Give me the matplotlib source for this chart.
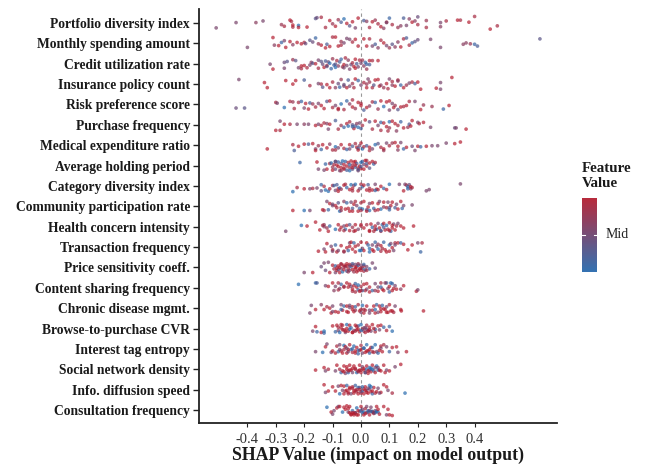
import matplotlib
matplotlib.use("Agg")
import matplotlib.pyplot as plt
import numpy as np
from matplotlib.colors import LinearSegmentedColormap

plt.rcParams['font.family'] = ['Liberation Serif', 'DejaVu Serif']

features = ["Portfolio diversity index", "Monthly spending amount", "Credit utilization rate",
            "Insurance policy count", "Risk preference score", "Purchase frequency",
            "Medical expenditure ratio", "Average holding period", "Category diversity index",
            "Community participation rate", "Health concern intensity", "Transaction frequency",
            "Price sensitivity coeff.", "Content sharing frequency", "Chronic disease mgmt.",
            "Browse-to-purchase CVR", "Interest tag entropy", "Social network density",
            "Info. diffusion speed", "Consultation frequency"]
x_ticks = [-0.4, -0.3, -0.2, -0.1, 0.0, 0.1, 0.2, 0.3, 0.4]

shap_00 = [-0.51,-0.44,-0.37,-0.345,-0.28,-0.27,-0.25,-0.245,-0.24,-0.22,
           -0.22,-0.16,-0.155,-0.14,-0.125,-0.11,-0.09,-0.08,-0.07,-0.06,
           -0.05,-0.04,-0.03,-0.02,-0.01,0.01,0.03,0.04,0.05,0.06,
           0.07,0.08,0.09,0.09,0.1,0.11,0.13,0.14,0.15,0.16,
           0.17,0.18,0.19,0.2,0.2,0.23,0.23,0.28,0.28,0.3,
           0.34,0.35,0.38,0.40,0.455,0.48,-0.19,-0.1,-0.24,0.02]
jit_00 = [24,-2,-2,-10,8,16,-14,-8,20,12,
          22,-22,-26,-28,22,-12,16,-16,-4,-20,
          2,14,-6,24,-24,-12,22,-6,-14,4,
          18,26,-4,-2,-24,8,22,14,-24,12,
          -20,-4,-10,8,-30,22,-12,-2,18,-10,
          -14,-14,-4,-32,30,14,20,4,10,-8]
feat_00 = [5,5,6,5,7,8,9,8,8,0,
           9,3,4,8,8,9,9,7,2,0,
           9,3,9,5,9,2,8,9,7,8,
           9,6,8,5,1,8,7,6,2,5,
           6,9,6,8,4,8,7,5,6,8,
           9,8,9,8,9,8,9,7,9,6]

shap_01 = [-0.40,-0.31,-0.305,-0.29,-0.28,-0.27,-0.265,-0.25,-0.24,-0.225,
           -0.21,-0.2,-0.195,-0.18,-0.17,-0.16,-0.15,-0.14,-0.125,-0.12,
           -0.11,-0.1,-0.09,-0.08,-0.07,-0.07,-0.06,-0.05,-0.04,-0.03,
           -0.02,-0.01,0.01,0.02,0.03,0.04,0.05,0.06,0.07,0.08,
           0.09,0.1,0.11,0.12,0.13,0.14,0.15,0.16,0.17,0.18,
           0.19,0.2,0.245,0.28,0.36,0.37,0.385,0.40,0.41,0.63]
jit_01 = [18,-26,8,10,-4,-12,18,-8,6,-4,
          2,-4,1,-14,-6,-24,2,8,20,4,
          14,-28,-28,12,-8,8,-2,-22,-18,-6,
          -18,12,-20,12,-20,12,4,20,-14,-2,
          10,20,4,16,-6,16,-20,-24,8,-2,
          -8,-16,-18,18,4,-2,2,4,12,-20]
feat_01 = [5,9,6,9,1,5,9,9,6,9,
           9,8,4,3,4,1,7,9,9,2,
           9,8,9,9,7,8,5,5,5,8,
           9,9,9,9,8,5,2,6,8,9,
           5,7,3,6,6,9,8,2,8,1,
           3,4,5,5,6,6,7,1,2,3]

shap_02 = [-0.32,-0.31,-0.27,-0.27,-0.26,-0.24,-0.23,-0.22,-0.21,-0.21,
           -0.2,-0.19,-0.18,-0.175,-0.17,-0.16,-0.15,-0.15,-0.14,-0.135,
           -0.13,-0.125,-0.12,-0.115,-0.11,-0.105,-0.1,-0.095,-0.09,-0.085,
           -0.08,-0.075,-0.07,-0.065,-0.06,-0.055,-0.05,-0.045,-0.04,-0.035,
           -0.03,-0.025,-0.02,-0.015,-0.01,-0.005,0.0,0.005,0.01,0.015,
           0.02,0.02,0.03,0.03,0.04,0.06,-0.12,-0.09,-0.06,-0.02]
jit_02 = [2,24,-6,20,-10,-18,-14,18,10,22,
          8,18,6,-6,-2,0,-16,20,-10,2,
          16,-12,8,-8,-2,22,-22,6,2,-14,
          10,-8,-20,14,4,-26,8,-16,24,4,
          -4,12,-20,0,14,-16,-2,-16,10,-6,
          2,24,-14,4,-14,-14,12,16,18,20]
feat_02 = [5,9,4,5,3,7,3,5,9,8,
           9,8,5,6,3,9,5,8,3,4,
           9,2,8,4,0,1,7,1,3,8,
           6,2,1,7,9,8,5,6,5,4,
           8,9,9,2,5,8,5,7,6,1,
           1,7,9,2,8,9,3,0,5,9]

shap_03 = [-0.43,-0.34,-0.33,-0.265,-0.24,-0.23,-0.2,-0.18,-0.15,-0.14,
           -0.135,-0.12,-0.11,-0.1,-0.09,-0.08,-0.075,-0.07,-0.06,-0.05,
           -0.045,-0.04,-0.03,-0.025,-0.02,-0.01,0.0,0.01,0.02,0.025,
           0.03,0.04,0.045,0.05,0.06,0.065,0.07,0.08,0.09,0.095,
           0.1,0.11,0.12,0.13,0.13,0.14,0.15,0.16,0.17,0.18,
           0.19,0.2,0.21,0.265,0.28,0.28,0.32,-0.06,0.02,0.11]
jit_03 = [-18,-6,14,-14,0,-14,-16,6,-2,0,
          12,2,14,-8,14,-2,12,-18,8,14,
          -16,8,-2,14,-20,-14,4,-6,14,-20,
          -8,14,4,-16,-18,8,4,14,-2,18,
          -20,4,8,-16,-12,4,14,4,-4,-8,
          -2,-8,20,16,-6,20,-26,2,0,-10]
feat_03 = [5,9,9,9,9,9,2,8,5,8,
           3,9,9,8,6,4,1,7,5,9,
           2,5,7,8,9,1,5,8,9,5,
           7,8,3,9,9,9,6,7,9,8,
           5,6,9,8,6,1,9,7,5,8,
           2,9,9,9,5,5,9,4,7,8]

shap_04 = [-0.44,-0.41,-0.30,-0.295,-0.27,-0.25,-0.24,-0.235,-0.22,-0.21,
           -0.2,-0.195,-0.185,-0.18,-0.17,-0.16,-0.15,-0.14,-0.13,-0.12,
           -0.11,-0.1,-0.09,-0.08,-0.07,-0.06,-0.05,-0.04,-0.03,-0.02,
           -0.01,0.0,0.01,0.02,0.03,0.04,0.05,0.06,0.07,0.08,
           0.09,0.1,0.11,0.115,0.12,0.13,0.14,0.15,0.16,0.17,
           0.19,0.21,0.22,0.25,0.29,0.31,-0.08,-0.03,0.0,0.1]
jit_04 = [14,14,-8,-5,12,-12,-10,16,-8,-12,
          14,-4,18,-6,-2,10,-4,4,16,-12,
          -14,12,4,20,-2,20,-14,-2,10,16,
          -8,-4,22,12,6,-10,-8,18,-14,8,
          -10,22,-4,12,4,20,10,8,4,-12,
          -12,20,2,8,18,4,16,-18,4,-14]
feat_04 = [4,3,8,5,0,8,7,8,8,1,
           5,9,9,2,7,8,5,9,9,3,
           9,8,5,8,0,8,1,6,9,7,
           9,8,2,9,6,8,1,7,9,0,
           9,5,5,9,7,3,9,8,9,8,
           5,9,7,7,1,9,9,8,9,9]

shap_05 = [-0.30,-0.285,-0.285,-0.27,-0.25,-0.225,-0.2,-0.185,-0.16,-0.15,
           -0.14,-0.13,-0.12,-0.115,-0.11,-0.09,-0.08,-0.07,-0.06,-0.05,
           -0.045,-0.04,-0.03,-0.025,-0.02,-0.015,-0.01,-0.005,0.0,0.005,
           0.015,0.04,0.05,0.06,0.07,0.07,0.08,0.09,0.095,0.1,
           0.11,0.12,0.125,0.13,0.14,0.15,0.165,0.17,0.175,0.18,
           0.2,0.205,0.22,0.245,0.33,0.335,0.37,-0.03,0.03,0.1]
jit_05 = [18,18,-12,-2,-2,-2,-2,-2,2,-2,
          2,-6,-4,14,-2,-14,14,2,8,-4,
          4,-10,0,12,4,-4,8,-6,12,2,
          -16,14,-12,2,-8,18,-6,6,20,-10,
          -12,-4,20,2,-10,10,8,-2,4,-14,
          -8,-4,-8,8,10,10,14,6,-10,10]
feat_05 = [9,8,5,9,8,5,6,5,9,5,
           9,8,6,5,9,2,8,7,1,9,
           0,8,3,9,2,6,0,5,2,8,
           9,8,9,5,1,8,9,9,8,0,
           9,9,6,8,1,9,7,2,9,9,
           5,8,9,5,4,5,9,1,3,7]

shap_06 = [-0.33,-0.24,-0.235,-0.22,-0.2,-0.185,-0.17,-0.16,-0.15,-0.14,
           -0.135,-0.12,-0.11,-0.1,-0.09,-0.08,-0.07,-0.06,-0.05,-0.04,
           -0.03,-0.02,-0.015,-0.01,-0.005,0.0,0.005,0.01,0.02,0.03,
           0.04,0.05,0.06,0.07,0.08,0.09,0.1,0.11,0.12,0.13,
           0.14,0.15,0.16,0.18,0.19,0.2,0.21,0.23,0.25,0.27,
           0.30,0.33,0.35,-0.16,-0.09,-0.04,-0.01,0.03,0.08,0.13]
jit_06 = [14,-2,20,4,-4,-4,-6,14,2,16,
          -2,10,-4,18,6,10,-2,12,16,-2,
          4,-6,8,12,2,-8,14,6,2,8,
          14,-2,-6,8,14,-8,2,-8,-10,4,
          -10,14,8,4,20,4,6,4,2,2,
          -8,-6,-12,20,18,14,18,20,20,18]
feat_06 = [9,8,2,9,9,2,9,5,7,1,
           9,9,6,8,0,5,9,8,1,9,
           2,8,9,1,5,9,0,8,2,9,
           5,0,3,8,9,5,8,7,9,9,
           5,1,9,4,5,9,1,9,5,5,
           5,9,9,9,8,5,9,8,7,6]

shap_07 = [-0.215,-0.155,-0.15,-0.125,-0.12,-0.11,-0.105,-0.1,-0.095,-0.09,
           -0.09,-0.085,-0.08,-0.08,-0.075,-0.07,-0.07,-0.065,-0.06,-0.06,
           -0.055,-0.05,-0.05,-0.045,-0.04,-0.04,-0.035,-0.03,-0.03,-0.025,
           -0.02,-0.02,-0.015,-0.01,-0.01,-0.005,0.0,0.0,0.005,0.01,
           0.01,0.015,0.02,0.02,0.03,0.03,0.04,0.045,0.05,-0.13,
           -0.1,-0.07,-0.04,-0.02,0.0,0.02,-0.09,-0.06,-0.03,-0.01]
jit_07 = [-12,-14,14,-6,14,-8,-10,6,-4,14,
          -16,-2,4,-14,20,-8,8,-18,-4,14,
          -16,2,18,-12,8,20,-18,-2,14,-14,
          6,-16,-8,10,20,2,-12,12,-16,-4,
          14,-20,2,-8,-10,10,-16,-6,-12,18,
          18,20,-4,-2,4,-20,-16,10,8,16]
feat_07 = [1,9,5,1,9,8,0,7,8,4,
           0,9,9,1,5,3,9,0,9,8,
           1,9,2,9,7,0,9,8,3,9,
           1,9,2,8,5,9,0,9,1,5,
           9,9,8,2,9,3,9,1,8,5,
           9,7,1,9,2,8,5,8,9,3]

shap_08 = [-0.24,-0.225,-0.2,-0.18,-0.17,-0.155,-0.14,-0.13,-0.125,-0.115,
           -0.11,-0.1,-0.095,-0.09,-0.085,-0.08,-0.075,-0.07,-0.06,-0.055,
           -0.05,-0.04,-0.035,-0.03,-0.025,-0.02,-0.01,-0.005,0.0,0.005,
           0.01,0.02,0.025,0.03,0.04,0.05,0.055,0.06,0.07,0.08,
           0.1,0.135,0.15,0.155,0.16,0.165,0.165,0.17,0.175,0.175,
           0.18,0.23,0.24,0.35,-0.14,-0.08,-0.03,0.03,0.05,0.09]
jit_08 = [28,8,14,14,12,10,-6,2,20,26,
          14,-2,-2,22,-6,14,10,16,-4,-8,
          8,18,-6,12,-2,-8,24,14,-8,4,
          -4,20,-6,12,20,-8,16,18,2,12,
          -8,-8,24,-8,-4,4,14,-6,14,4,
          8,24,18,-10,24,26,24,24,22,18]
feat_08 = [0,8,9,5,8,5,1,8,0,0,
           9,8,1,5,2,9,0,7,9,8,
           1,9,0,9,6,0,9,5,8,1,
           9,9,2,8,9,5,9,8,9,1,
           0,5,9,5,7,0,1,4,5,9,
           8,5,5,5,3,9,8,9,1,9]

shap_09 = [-0.24,-0.2,-0.18,-0.135,-0.13,-0.12,-0.115,-0.11,-0.1,-0.09,
           -0.085,-0.08,-0.075,-0.07,-0.06,-0.055,-0.05,-0.045,-0.04,-0.035,
           -0.03,-0.025,-0.02,-0.015,-0.01,-0.005,0.0,0.005,0.01,0.02,
           0.025,0.03,0.04,0.045,0.05,0.06,0.065,0.07,0.08,0.09,
           0.095,0.1,0.105,0.11,0.12,0.125,0.13,0.14,0.145,0.15,
           0.18,-0.07,-0.03,0.0,0.03,0.06,0.1,-0.1,0.02,0.08]
jit_09 = [12,12,12,10,12,-14,10,-8,-6,-2,
          4,-10,14,4,-14,8,-10,6,14,-12,
          6,-6,-14,-2,14,6,-10,8,-14,10,
          2,-8,-10,6,12,-8,-14,8,-12,4,
          -12,10,-2,-12,4,-6,8,-14,6,-2,
          -4,12,14,12,12,10,4,-2,14,2]
feat_09 = [9,0,5,9,8,5,1,9,5,9,
           8,3,0,9,6,9,1,9,9,5,
           2,9,8,5,9,1,8,0,9,2,
           9,5,9,1,8,9,5,0,9,8,
           5,1,9,9,2,5,9,9,1,5,
           5,7,9,8,0,9,3,5,9,6]

shap_10 = [-0.265,-0.21,-0.19,-0.16,-0.145,-0.135,-0.13,-0.12,-0.115,-0.11,
           -0.09,-0.08,-0.075,-0.07,-0.06,-0.055,-0.05,-0.04,-0.03,-0.025,
           -0.02,-0.01,0.0,0.01,0.02,0.03,0.035,0.04,0.045,0.05,
           0.055,0.06,0.065,0.07,0.075,0.08,0.085,0.09,0.095,0.1,
           0.105,0.11,0.115,0.12,0.125,0.13,0.14,0.15,0.185,-0.06,
           -0.02,0.03,0.07,0.1,-0.04,0.0,0.05,0.08,-0.13,0.11]
jit_10 = [14,-4,-2,-14,10,-4,0,4,14,-2,
          8,-6,10,2,-2,8,-4,12,2,14,
          -6,8,-6,4,-6,12,-8,2,14,-2,
          8,-10,4,14,-6,-10,10,-4,8,-12,
          14,4,-8,10,-2,-10,-2,4,-2,12,
          12,14,12,12,-6,-2,8,2,-6,-4]
feat_10 = [5,0,9,9,9,8,6,7,9,1,
           0,9,8,9,5,1,9,9,7,8,
           9,5,9,9,8,9,9,1,8,9,
           0,5,9,8,1,9,9,0,8,9,
           1,9,5,9,8,5,9,9,9,8,
           9,9,1,9,3,8,9,2,7,9]

shap_11 = [-0.15,-0.13,-0.125,-0.12,-0.105,-0.1,-0.09,-0.085,-0.08,-0.07,
           -0.06,-0.05,-0.045,-0.04,-0.035,-0.03,-0.025,-0.02,-0.01,-0.005,
           0.0,0.005,0.01,0.02,0.025,0.03,0.04,0.045,0.05,0.055,
           0.06,0.07,0.075,0.08,0.085,0.09,0.1,0.105,0.11,0.115,
           0.12,0.13,0.14,0.15,0.165,0.18,0.2,0.21,0.215,-0.06,
           -0.02,0.0,0.04,0.07,0.1,-0.1,-0.04,0.03,0.06,0.12]
jit_11 = [12,6,14,-10,-2,8,-6,14,10,-4,
          12,2,10,-12,-14,6,-12,-2,-6,10,
          -14,4,10,-12,-6,4,-6,12,-14,-2,
          6,-4,4,-14,8,14,-6,-10,2,10,
          -12,-12,-12,-8,8,-6,-12,14,-12,14,
          14,10,8,12,12,12,-2,14,-8,-6]
feat_11 = [9,5,9,9,5,9,1,9,5,9,
           8,9,1,5,9,9,1,9,8,0,
           9,5,9,9,1,0,5,9,1,5,
           0,9,8,1,9,9,0,5,9,5,
           8,9,1,9,9,9,5,1,8,7,
           9,0,9,8,9,5,9,0,6,5]

shap_12 = [-0.2,-0.17,-0.13,-0.125,-0.11,-0.1,-0.095,-0.09,-0.09,-0.085,
           -0.08,-0.08,-0.075,-0.07,-0.07,-0.065,-0.06,-0.06,-0.055,-0.05,
           -0.05,-0.045,-0.04,-0.04,-0.035,-0.03,-0.03,-0.025,-0.02,-0.02,
           -0.015,-0.01,-0.01,-0.005,0.0,0.0,0.005,0.01,0.01,0.015,
           0.02,0.03,0.04,0.05,-0.14,-0.115,-0.07,-0.05,-0.03,-0.01,
           -0.085,-0.06,-0.04,-0.02,0.0,0.02,-0.075,-0.045,-0.015,0.01]
jit_12 = [14,14,-12,8,14,-6,4,14,-4,8,
          -4,6,14,-8,4,12,-6,6,-2,-4,
          10,4,-8,8,-2,-6,6,12,-8,4,
          -2,-6,8,4,-6,8,2,-4,10,6,
          -2,4,-12,2,-2,-14,-10,-10,-10,-10,
          2,-2,-4,0,2,8,0,12,12,-8]
feat_12 = [5,9,5,4,9,9,8,5,1,9,
           9,3,9,8,5,0,9,9,5,9,
           2,8,9,5,0,9,9,7,5,9,
           9,1,8,9,5,9,1,9,8,2,
           5,1,5,4,4,5,8,9,2,7,
           9,8,5,9,9,8,9,7,9,1]

shap_13 = [-0.22,-0.16,-0.155,-0.125,-0.115,-0.1,-0.09,-0.08,-0.075,-0.07,
           -0.06,-0.05,-0.04,-0.035,-0.03,-0.025,-0.02,-0.015,-0.01,-0.005,
           0.0,0.005,0.01,0.02,0.03,0.04,0.05,0.06,0.07,0.075,
           0.08,0.09,0.095,0.1,0.105,0.11,0.115,0.12,0.125,0.14,
           0.15,0.195,0.2,-0.06,-0.02,0.03,0.1,-0.08,0.0,0.05,
           -0.045,-0.01,0.02,0.06,0.085,-0.03,0.015,0.07,-0.095,0.11]
jit_13 = [-10,-14,-14,-6,-4,-14,-4,6,2,-10,
          -2,-14,-10,-4,10,-6,-12,-2,6,10,
          -4,8,-10,4,-2,8,-12,10,-14,4,
          8,-14,2,-4,-14,-12,2,-6,4,4,
          -6,10,6,-4,12,12,12,-14,8,8,
          -2,-8,-12,-2,-14,4,8,-2,8,8]
feat_13 = [0,1,2,5,9,9,5,8,6,1,
           9,9,9,5,8,9,1,9,2,9,
           8,0,9,5,9,1,5,9,8,9,
           9,2,5,9,0,1,9,5,9,6,
           9,9,5,7,8,9,1,8,9,7,
           9,0,9,5,6,9,8,1,6,9]

shap_14 = [-0.18,-0.175,-0.16,-0.14,-0.13,-0.12,-0.11,-0.105,-0.1,-0.09,
           -0.08,-0.07,-0.065,-0.06,-0.05,-0.045,-0.04,-0.03,-0.025,-0.02,
           -0.01,-0.005,0.0,0.005,0.01,0.02,0.03,0.04,0.05,0.055,
           0.06,0.065,0.07,0.08,0.09,0.095,0.1,0.11,0.115,0.12,
           0.14,0.142,0.22,-0.07,-0.03,0.0,0.03,0.07,0.09,-0.05,
           -0.02,0.015,0.045,0.085,-0.04,0.01,0.05,0.105,-0.1,0.075]
jit_14 = [14,-8,4,-10,4,-4,0,14,-6,10,
          12,-10,6,-6,10,12,-8,-4,10,-4,
          -10,8,12,-8,14,-6,14,6,14,-10,
          12,-6,10,2,-4,12,-10,8,12,-6,
          4,8,8,4,4,4,6,2,12,-6,
          6,6,-6,4,-2,4,4,8,10,-8]
feat_14 = [5,5,9,6,9,8,9,9,5,9,
           9,5,9,1,9,9,5,9,9,1,
           8,9,5,0,9,9,5,9,9,1,
           5,9,9,9,5,9,9,9,8,5,
           9,9,9,1,9,8,5,9,9,9,
           7,8,9,9,5,8,0,9,5,1]

shap_15 = [-0.17,-0.16,-0.155,-0.14,-0.13,-0.13,-0.1,-0.09,-0.085,-0.08,
           -0.075,-0.07,-0.065,-0.06,-0.055,-0.05,-0.045,-0.04,-0.035,-0.03,
           -0.025,-0.02,-0.015,-0.01,-0.005,0.0,0.005,0.01,0.015,0.02,
           0.025,0.03,0.035,0.04,0.05,0.06,0.065,0.07,0.08,0.09,
           0.1,0.11,-0.07,-0.04,-0.01,0.02,0.05,-0.055,-0.02,0.0,
           0.03,-0.08,-0.03,0.015,0.045,-0.065,-0.015,0.01,-0.05,0.025]
jit_15 = [8,-6,10,12,8,14,-8,10,-10,6,
          12,-12,-10,4,12,-12,8,-10,-2,12,
          6,-10,4,-8,10,-12,2,8,12,-10,
          6,-4,8,-12,10,-8,4,-10,-4,6,
          -6,8,-2,2,2,2,2,8,8,6,
          4,-4,12,-2,0,4,-6,-2,0,8]
feat_15 = [5,9,1,9,0,1,9,1,9,5,
           0,9,8,9,5,0,9,9,1,9,
           5,9,8,1,9,0,9,5,9,8,
           1,9,5,9,8,9,5,9,1,9,
           1,0,9,0,9,5,1,9,8,0,
           9,8,9,5,9,8,9,5,9,9]

shap_16 = [-0.16,-0.135,-0.125,-0.12,-0.105,-0.1,-0.09,-0.085,-0.08,-0.075,
           -0.07,-0.065,-0.06,-0.055,-0.05,-0.045,-0.04,-0.035,-0.03,-0.025,
           -0.02,-0.015,-0.01,-0.005,0.0,0.005,0.01,0.015,0.02,0.025,
           0.03,0.035,0.04,0.05,0.055,0.06,0.07,0.08,0.09,0.1,
           0.11,0.125,0.13,0.16,-0.06,-0.03,0.0,0.03,0.07,-0.045,
           -0.01,0.02,0.045,-0.075,-0.02,0.01,0.04,0.065,-0.05,0.075]
jit_16 = [8,10,-6,-14,10,6,12,-8,8,-12,
          6,12,-10,-6,12,8,-12,2,10,-8,
          12,-4,14,4,-10,12,-2,10,-12,6,
          12,-4,8,-12,8,12,-8,-12,-6,8,
          -4,-6,10,8,2,0,2,2,-2,2,
          4,6,10,2,6,-2,-4,4,-2,8]
feat_16 = [5,0,9,5,5,9,9,8,1,5,
           9,9,0,9,9,5,9,1,8,0,
           9,9,1,9,8,5,1,9,0,9,
           1,9,8,0,5,1,9,8,5,1,
           9,9,5,9,8,1,9,9,5,9,
           1,9,8,5,9,1,0,9,5,9]

shap_17 = [-0.16,-0.13,-0.125,-0.115,-0.09,-0.085,-0.075,-0.07,-0.065,-0.06,
           -0.055,-0.05,-0.045,-0.04,-0.035,-0.03,-0.025,-0.02,-0.015,-0.01,
           -0.005,0.0,0.005,0.01,0.015,0.02,0.025,0.03,0.035,0.04,
           0.045,0.05,0.055,0.06,0.07,0.08,0.085,0.09,0.1,0.12,
           0.14,-0.05,-0.02,0.01,0.03,0.06,-0.04,0.0,0.02,0.05,
           -0.06,-0.01,0.015,0.04,-0.03,0.025,-0.045,-0.005,0.035,0.065]
jit_17 = [2,-4,4,0,4,-10,0,8,4,-8,
          10,-6,8,-10,2,8,-8,-2,8,4,
          -10,8,-6,2,8,-8,10,-4,6,-10,
          4,8,-8,-4,4,-10,8,2,4,-6,
          -12,0,0,-2,2,2,2,2,0,-4,
          6,6,8,0,-2,4,4,2,-2,2]
feat_17 = [9,9,5,8,5,9,8,1,9,9,
           5,9,1,9,9,5,9,9,0,8,
           9,9,5,9,1,9,9,0,9,9,
           1,9,0,5,9,9,9,5,9,5,
           9,9,8,9,5,1,9,8,0,5,
           9,7,5,1,9,9,8,9,0,9]

shap_18 = [-0.13,-0.125,-0.115,-0.1,-0.09,-0.08,-0.075,-0.07,-0.065,-0.06,
           -0.055,-0.05,-0.045,-0.04,-0.035,-0.03,-0.025,-0.02,-0.015,-0.01,
           -0.005,0.0,0.005,0.01,0.015,0.02,0.025,0.03,0.035,0.04,
           0.045,0.05,0.06,0.07,0.08,0.09,0.095,0.11,0.155,-0.05,
           -0.02,0.01,0.03,-0.04,-0.01,0.02,-0.03,0.0,0.015,-0.06,
           -0.015,0.005,0.025,0.04,-0.045,-0.025,0.035,0.055,0.065,-0.005]
jit_18 = [-14,8,4,-8,4,-10,12,-12,2,-10,
          4,-12,8,-6,12,-4,10,-12,6,12,
          -6,10,4,12,-8,2,10,-12,6,12,
          -6,10,-4,8,-14,-8,2,10,10,2,
          2,-2,-2,-2,-6,8,-8,6,2,12,
          0,-8,-4,4,12,4,-8,6,10,0]
feat_18 = [9,5,9,9,9,5,0,9,5,9,
           8,1,9,9,5,9,9,1,8,9,
           5,9,0,9,9,5,9,0,9,1,
           9,8,5,9,9,9,5,8,0,9,
           8,9,5,9,1,9,8,5,9,9,
           8,1,5,9,8,9,0,9,5,9]

shap_19 = [-0.12,-0.105,-0.1,-0.095,-0.085,-0.08,-0.075,-0.065,-0.06,-0.055,
           -0.05,-0.045,-0.04,-0.035,-0.03,-0.025,-0.02,-0.015,-0.01,-0.005,
           0.0,0.005,0.01,0.015,0.02,0.025,0.03,0.035,0.04,0.045,
           0.05,0.055,0.06,0.065,0.08,0.09,0.095,0.1,0.11,-0.04,
           -0.02,0.01,0.03,0.05,-0.03,-0.01,0.02,0.04,-0.025,0.0,
           0.015,0.035,0.045,-0.035,-0.015,0.005,0.025,0.055,-0.045,0.06]
jit_19 = [-8,6,12,2,-6,-10,-10,6,-8,-2,
          -12,6,-10,12,2,14,8,-6,14,4,
          -10,8,14,-4,-10,6,14,-8,4,10,
          2,-10,6,12,-10,14,-2,14,16,8,
          8,6,2,8,8,2,8,6,10,2,
          10,4,8,14,14,-2,2,4,-4,-2]
feat_19 = [0,9,5,5,9,5,9,0,9,9,
           9,5,9,9,1,9,8,0,9,5,
           9,1,9,8,5,0,9,5,1,9,
           5,9,1,9,9,5,9,9,9,9,
           5,0,9,1,9,9,5,8,9,1,
           9,0,5,9,9,5,1,0,9,9]

jitter_gain = [1.0, 1.1, 1.1, 1.25, 1.25, 1.5, 1.3, 1.25, 1.0, 1.7,
               1.6, 1.7, 1.8, 1.7, 1.7, 1.6, 1.7, 2.0, 1.7, 1.7]

shap_rows = [shap_00, shap_01, shap_02, shap_03, shap_04, shap_05, shap_06, shap_07, shap_08, shap_09,
             shap_10, shap_11, shap_12, shap_13, shap_14, shap_15, shap_16, shap_17, shap_18, shap_19]
jit_rows = [jit_00, jit_01, jit_02, jit_03, jit_04, jit_05, jit_06, jit_07, jit_08, jit_09,
            jit_10, jit_11, jit_12, jit_13, jit_14, jit_15, jit_16, jit_17, jit_18, jit_19]
feat_rows = [feat_00, feat_01, feat_02, feat_03, feat_04, feat_05, feat_06, feat_07, feat_08, feat_09,
             feat_10, feat_11, feat_12, feat_13, feat_14, feat_15, feat_16, feat_17, feat_18, feat_19]

cmap = LinearSegmentedColormap.from_list("rb", ["#2166ac", "#b2182b"])

W, H = 646, 466
fig = plt.figure(figsize=(W / 100, H / 100), dpi=100)
L, R, T, B = 199, 557, 9, 423
ax = fig.add_axes([L / W, 1 - B / H, (R - L) / W, (B - T) / H])

for i, (xs, js, fs) in enumerate(zip(shap_rows, jit_rows, feat_rows)):
    n = min(len(xs), len(js), len(fs))
    ax.scatter(np.array(xs[:n]), i + jitter_gain[i] * np.array(js[:n]) / 100.0, c=np.array(fs[:n]) / 9.0,
               cmap=cmap, vmin=0, vmax=1, s=7, alpha=0.68, linewidths=0, zorder=3)

ax.axvline(0, color="#999999", lw=0.8, ls=(0, (3, 3)), zorder=1)
ax.set_xlim((L - 361) / 284, (R - 361) / 284)
ax.set_ylim(19 + (423 - 410) / 20.37, -(23 - 9) / 20.37)
ax.set_yticks(range(len(features)))
ax.set_yticklabels(features, fontsize=9.75, fontweight="bold", color="#1a1a1a")
ax.set_xticks(x_ticks)
ax.set_xticklabels([f"{v:.1f}" for v in x_ticks], fontsize=10.5, color="#333333")
ax.tick_params(axis="y", length=4, width=1, pad=2.5, color="#222222")
ax.tick_params(axis="x", length=3, width=0.8, pad=4, color="#222222")
for s in ("top", "right"):
    ax.spines[s].set_visible(False)
for s in ("left", "bottom"):
    ax.spines[s].set_linewidth(1.3)
    ax.spines[s].set_color("#222222")
ax.set_xlabel("SHAP Value (impact on model output)", fontsize=12.8, fontweight="bold",
              color="#1a1a1a", labelpad=1.0, x=(378.5 - L) / (R - L))

cax = fig.add_axes([582 / W, 1 - 272 / H, 15 / W, 74 / H])
grad = np.linspace(1, 0, 256).reshape(-1, 1)
cax.imshow(grad, aspect="auto", cmap=cmap, vmin=0, vmax=1, alpha=0.92, extent=[0, 1, 0, 1])
cax.set_xticks([])
cax.set_yticks([])
for s in cax.spines.values():
    s.set_visible(False)
cax.plot([0, 0.2], [0.5, 0.5], color="white", lw=0.8)
cax.plot([0.8, 1], [0.5, 0.5], color="white", lw=0.8)
cax.set_xlim(0, 1)
cax.set_ylim(0, 1)
cax.text(1.6, 0.5, "Mid", va="center", ha="left", fontsize=10, color="#222222", transform=cax.transAxes)
fig.text(582 / W, 1 - 176 / H, "Feature\nValue", fontsize=10.8, fontweight="bold", va="center", ha="left",
         color="#1a1a1a", linespacing=1.25)

fig.savefig("out.png", dpi=100)
